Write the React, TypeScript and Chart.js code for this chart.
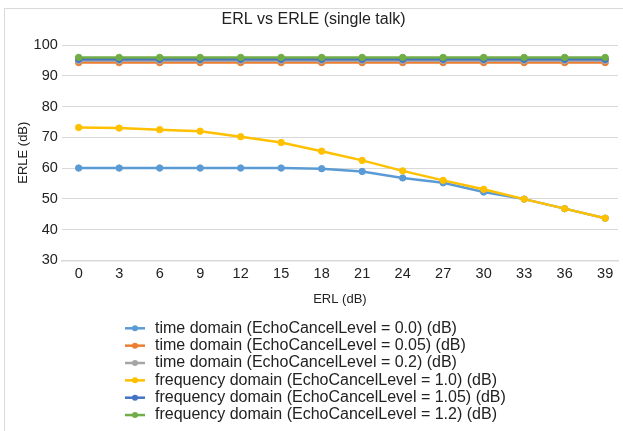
import React, { useEffect, useRef } from "react";
import { Chart, registerables } from "chart.js";

Chart.register(...registerables);

const erl = [0, 3, 6, 9, 12, 15, 18, 21, 24, 27, 30, 33, 36, 39];
const timeDomain00 = [60, 60, 60, 60, 60, 60, 59.8, 58.9, 56.8, 55.2, 52.2, 49.9, 46.8, 43.7];
const timeDomain005 = [94.3, 94.3, 94.3, 94.3, 94.3, 94.3, 94.3, 94.3, 94.3, 94.3, 94.3, 94.3, 94.3, 94.3];
const timeDomain02 = [94.9, 94.9, 94.9, 94.9, 94.9, 94.9, 94.9, 94.9, 94.9, 94.9, 94.9, 94.9, 94.9, 94.9];
const freqDomain10 = [73.2, 73.0, 72.5, 72.0, 70.2, 68.3, 65.5, 62.5, 59.1, 56.0, 53.1, 49.9, 46.8, 43.7];
const freqDomain105 = [95.4, 95.4, 95.4, 95.4, 95.4, 95.4, 95.4, 95.4, 95.4, 95.4, 95.4, 95.4, 95.4, 95.4];
const freqDomain12 = [96, 96, 96, 96, 96, 96, 96, 96, 96, 96, 96, 96, 96, 96];

const seriesLabels = [
  "time domain (EchoCancelLevel = 0.0) (dB)",
  "time domain (EchoCancelLevel = 0.05) (dB)",
  "time domain (EchoCancelLevel = 0.2) (dB)",
  "frequency domain (EchoCancelLevel = 1.0) (dB)",
  "frequency domain (EchoCancelLevel = 1.05) (dB)",
  "frequency domain (EchoCancelLevel = 1.2) (dB)",
];
const seriesValues = [timeDomain00, timeDomain005, timeDomain02, freqDomain10, freqDomain105, freqDomain12];
const seriesColors = ["#5b9bd5", "#ed7d31", "#a5a5a5", "#ffc000", "#4472c4", "#70ad47"];

const FONT = "'Liberation Sans', Arial, sans-serif";
const TEXT = "#222222";

const customLegend = {
  id: "customLegend",
  beforeDraw(chart: any) {
    const ctx = chart.ctx;
    ctx.save();
    ctx.strokeStyle = "#d9d9d9";
    ctx.lineWidth = 1;
    ctx.strokeRect(4.5, 8.5, 800, 600);
    ctx.restore();
  },
  afterDraw(chart: any) {
    const ctx = chart.ctx;
    ctx.save();
    const x0 = 125;
    const y0 = 328.3;
    const step = 17.35;
    chart.data.datasets.forEach((ds: any, i: number) => {
      const y = y0 + i * step;
      ctx.strokeStyle = ds.borderColor;
      ctx.lineWidth = 2.5;
      ctx.beginPath();
      ctx.moveTo(x0, y);
      ctx.lineTo(x0 + 20, y);
      ctx.stroke();
      ctx.fillStyle = ds.borderColor;
      ctx.beginPath();
      ctx.arc(x0 + 10, y, 3, 0, Math.PI * 2);
      ctx.fill();
      ctx.fillStyle = TEXT;
      ctx.font = `16px ${FONT}`;
      ctx.textBaseline = "middle";
      ctx.textAlign = "left";
      ctx.fillText(ds.label, x0 + 30, y);
    });
    ctx.restore();
  },
};

export default function App() {
  const ref = useRef<HTMLCanvasElement | null>(null);
  useEffect(() => {
    document.body.style.margin = "0";
    const canvas = ref.current;
    if (!canvas) return;
    const datasets = seriesValues.map((vals, i) => ({
      label: seriesLabels[i],
      data: vals.map((v, j) => ({ x: erl[j], y: v })),
      borderColor: seriesColors[i],
      backgroundColor: seriesColors[i],
      borderWidth: 2.5,
      pointRadius: 3.2,
      pointBorderWidth: 1,
      pointBackgroundColor: seriesColors[i],
      pointBorderColor: seriesColors[i],
      tension: 0,
      order: 6 - i,
    }));
    const chart = new Chart(canvas, {
      type: "line",
      data: { datasets },
      plugins: [customLegend],
      options: {
        animation: false,
        responsive: false,
        devicePixelRatio: 1,
        layout: { padding: { left: 4, right: 0, top: 0, bottom: 119.7 } },
        plugins: {
          legend: { display: false },
          tooltip: { enabled: false },
          title: {
            display: true,
            text: "ERL vs ERLE (single talk)",
            color: TEXT,
            font: { family: FONT, size: 16, weight: "normal" },
            padding: { top: 10.4, bottom: 15.5 },
          },
        },
        scales: {
          x: {
            type: "linear",
            min: -1.25,
            max: 39.95,
            afterBuildTicks: (axis: any) => {
              axis.ticks = erl.map((v) => ({ value: v }));
            },
            ticks: {
              color: TEXT,
              font: { family: FONT, size: 14.5 },
              padding: 5,
              maxRotation: 0,
              autoSkip: false,
            },
            grid: { display: false, drawTicks: false },
            border: { display: true, color: "#d9d9d9", width: 1.5 },
            title: {
              display: true,
              text: "ERL (dB)",
              color: TEXT,
              font: { family: FONT, size: 13 },
              padding: { top: 4, bottom: 4 },
            },
          },
          y: {
            min: 30,
            max: 100,
            ticks: {
              stepSize: 10,
              color: TEXT,
              font: { family: FONT, size: 14.5 },
              padding: 4,
            },
            grid: { color: "#d9d9d9", lineWidth: 1, drawTicks: false },
            border: { display: false },
            title: {
              display: true,
              text: "ERLE (dB)",
              color: TEXT,
              font: { family: FONT, size: 13 },
              padding: { top: 12, bottom: -2 },
            },
          },
        },
      },
    });
    return () => chart.destroy();
  }, []);
  return (
    <div style={{ position: "absolute", left: 0, top: 0, width: 623, height: 431, overflow: "hidden", background: "#fff" }}>
      <canvas ref={ref} width={623} height={431} style={{ display: "block" }} />
    </div>
  );
}
